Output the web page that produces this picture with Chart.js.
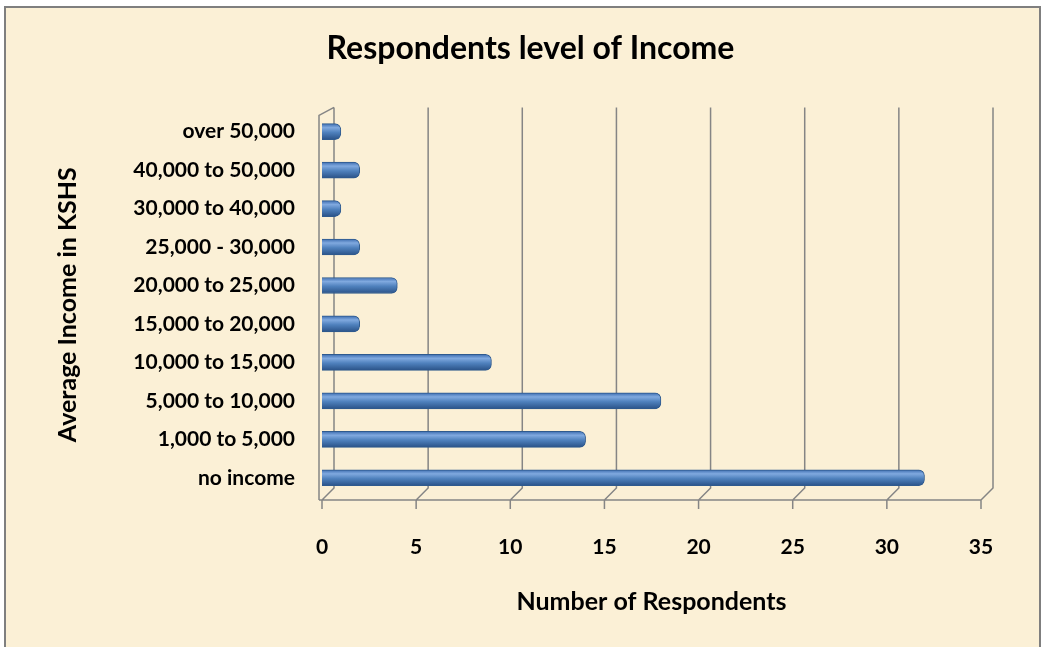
<!DOCTYPE html>
<html>
<head>
<meta charset="utf-8">
<script src="https://cdn.jsdelivr.net/npm/chart.js@4.4.0/dist/chart.umd.min.js"></script>
<style>
  html, body { margin: 0; padding: 0; background: #fff; }
  #wrap { width: 1042px; height: 647px; }
</style>
</head>
<body>
<div id="wrap"><canvas id="incomeChart"></canvas></div>
<script>
'use strict'

const incomeLevels = ["over 50,000", "40,000 to 50,000", "30,000 to 40,000", "25,000 - 30,000",
  "20,000 to 25,000", "15,000 to 20,000", "10,000 to 15,000", "5,000 to 10,000",
  "1,000 to 5,000", "no income"];
const respondents = [1, 2, 1, 2, 4, 2, 9, 18, 14, 32];
const xTicks = [0, 5, 10, 15, 20, 25, 30, 35];

const FONT = "Lato, 'Open Sans', sans-serif";

// cylinder-like shading, one gradient per bar
function barFill(context) {
  const chart = context.chart;
  const y = chart.scales.y;
  if (!chart.chartArea || !y) return '#4F81BD';
  const c = y.getPixelForValue(context.dataIndex);
  const g = chart.ctx.createLinearGradient(0, c - 8, 0, c + 8);
  g.addColorStop(0, '#3D6DB0');
  g.addColorStop(0.25, '#80A9DF');
  g.addColorStop(0.55, '#4F81BD');
  g.addColorStop(1, '#2A5288');
  return g;
}

// parchment panel + the 3d back wall / floor lines
const wallLines = {
  id: 'wallLines',
  beforeDraw(chart) {
    const c = chart.ctx;
    c.save();
    c.fillStyle = '#fff';
    c.fillRect(0, 0, chart.width, chart.height);
    c.fillStyle = '#FBF0D6';
    c.fillRect(5, 7, chart.width - 7, chart.height);
    c.strokeStyle = '#7f7f7f';
    c.lineWidth = 2;
    c.strokeRect(5, 7, chart.width - 7, chart.height);
    c.restore();
  },
  beforeDatasetsDraw(chart) {
    const {ctx, chartArea: a, scales: {x}} = chart;
    const dx = 12, back = a.bottom - 9, front = a.bottom + 3, top = a.top - 5;
    const x0 = x.getPixelForValue(xTicks[0]);
    const x1 = x.getPixelForValue(xTicks[xTicks.length - 1]);
    ctx.save();
    ctx.strokeStyle = '#858585';
    ctx.lineWidth = 1.5;
    ctx.beginPath();
    xTicks.forEach(function(v) {
      const px = x.getPixelForValue(v);
      ctx.moveTo(px + dx, top);
      ctx.lineTo(px + dx, back);
      ctx.lineTo(px, front);
      ctx.lineTo(px, front + 9);
    });
    ctx.moveTo(x0 - 3, front);
    ctx.lineTo(x1, front);
    ctx.moveTo(x0 - 3, front);
    ctx.lineTo(x0 - 3, top + 8);
    ctx.lineTo(x0 + dx, top);
    ctx.stroke();
    ctx.restore();
  }
};

const ctx = document.getElementById('incomeChart').getContext('2d');
const incomeChart = new Chart(ctx, {
  type: 'bar',
  data: {
    labels: incomeLevels,
    datasets: [{
      label: 'Number of Respondents',
      data: respondents,
      backgroundColor: barFill,
      borderColor: '#2F5A8E',
      borderWidth: 1,
      borderRadius: 6,
      borderSkipped: 'start',
      barThickness: 16
    }]
  },
  plugins: [wallLines],
  options: {
    indexAxis: 'y',
    responsive: true,
    maintainAspectRatio: false,
    animation: false,
    layout: {
      // left padding pulls the centred title over to where it sits in the original
      padding: { top: 8, left: 80, right: 61, bottom: 0 }
    },
    plugins: {
      legend: { display: false },
      tooltip: { enabled: false },
      title: {
        display: true,
        text: 'Respondents level of Income',
        color: '#000',
        font: { family: FONT, size: 32, weight: 'bold' },
        padding: { top: 21, bottom: 45 }
      }
    },
    scales: {
      x: {
        min: xTicks[0],
        max: xTicks[xTicks.length - 1],
        grid: { display: false, drawTicks: false },
        border: { display: false },
        ticks: {
          stepSize: 5,
          padding: 38,
          color: '#000',
          font: { family: FONT, size: 21, weight: 'bold' }
        },
        title: {
          display: true,
          text: 'Number of Respondents',
          color: '#000',
          font: { family: FONT, size: 25, weight: 'bold' },
          padding: { top: 10, bottom: 30 }
        },
        afterFit: function(scale) { scale.height = 150; }
      },
      y: {
        grid: { display: false, drawTicks: false },
        border: { display: false },
        ticks: {
          padding: 27,
          color: '#000',
          font: { family: FONT, size: 21, weight: 'bold' }
        },
        title: {
          display: true,
          text: 'Average Income in KSHS',
          color: '#000',
          font: { family: FONT, size: 25, weight: 'bold' },
          padding: { top: -27, bottom: 10 }
        },
        afterFit: function(scale) { scale.width = 242; }
      }
    }
  }
});
</script>
</body>
</html>
